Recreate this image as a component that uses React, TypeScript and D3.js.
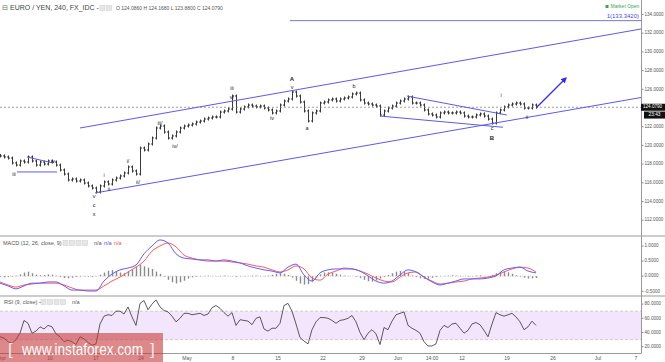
import React, { useEffect, useRef } from "react";
import * as d3 from "d3";

// EUR/JPY 4h closes, one value every 4 bars
const closes = [
  118.87, 118.76, 118.65, 118.12, 117.9, 118.33, 118.22, 118.76, 118.33, 117.9,
  118.22, 118.01, 118.33, 118.22, 117.9, 117.37, 116.94, 116.3, 116.41, 116.19,
  116.3, 115.98, 115.66, 115.44, 115.02, 115.66, 116.09, 115.87, 116.3, 116.51,
  116.73, 117.05, 117.69, 117.26, 116.94, 119.72, 119.51, 120.15, 120.79, 121.86,
  122.07, 121.43, 120.79, 121.01, 121.43, 121.86, 122.07, 122.18, 122.29, 122.5,
  122.61, 122.82, 122.93, 123.04, 123.04, 123.57, 123.68, 123.89, 125.28, 123.57,
  123.89, 124.11, 124.32, 124.21, 124.11, 124.21, 124.0, 123.79, 123.47, 123.68,
  124.32, 124.75, 124.96, 125.71, 125.28, 124.64, 123.68, 122.61, 123.47, 123.68,
  124.53, 124.64, 124.86, 124.96, 124.75, 124.96, 125.07, 125.18, 125.5, 125.6,
  124.86, 124.53, 124.43, 124.32, 124.21, 123.25, 123.68, 124.0, 124.21, 124.53,
  124.75, 124.96, 125.18, 124.53, 124.53, 124.32, 123.79, 123.36, 123.25, 123.04,
  123.47, 123.57, 123.47, 123.47, 123.57, 123.47, 123.14, 123.04, 123.04, 123.25,
  123.36, 123.14, 122.82, 122.39, 123.47, 123.79, 124.11, 124.32, 124.43, 124.53,
  124.43, 124.0, 124.0, 124.32, 124.08,
];

// MACD (12, 26, 9), one value every 8 bars
const macdLine = [
  -0.23, -0.32, -0.42, -0.32, -0.23, -0.23, -0.19, -0.19, -0.32, -0.46,
  -0.46, -0.49, -0.49, -0.16, 0.07, 0.21, 0.27, 0.37, 0.74, 1.0,
  1.2, 1.1, 0.74, 0.6, 0.57, 0.54, 0.54, 0.5, 0.54, 0.5,
  0.44, 0.34, 0.27, 0.21, 0.17, 0.11, 0.3, 0.4, 0.04, -0.16,
  0.11, 0.21, 0.24, 0.24, 0.24, 0.17, 0.01, -0.16, -0.23, -0.16,
  0.04, 0.21, 0.14, -0.03, -0.19, -0.29, -0.23, -0.16, -0.09, -0.09,
  -0.09, -0.06, 0.01, 0.21, 0.27, 0.3, 0.17, 0.11,
];
const signalLine = [
  -0.19, -0.29, -0.36, -0.29, -0.26, -0.23, -0.23, -0.23, -0.29, -0.39,
  -0.46, -0.46, -0.46, -0.32, -0.16, -0.03, 0.14, 0.3, 0.5, 0.83,
  1.0, 1.1, 0.97, 0.7, 0.6, 0.54, 0.5, 0.5, 0.5, 0.47,
  0.44, 0.4, 0.34, 0.3, 0.21, 0.14, 0.21, 0.34, 0.24, -0.06,
  -0.13, 0.07, 0.17, 0.27, 0.24, 0.17, 0.07, -0.06, -0.16, -0.19,
  -0.03, 0.11, 0.14, -0.03, -0.16, -0.26, -0.23, -0.19, -0.16, -0.09,
  -0.06, -0.03, 0.04, 0.14, 0.24, 0.3, 0.27, 0.14,
];
// histogram, one value every 4 bars
const macdHist = [
  -0.03, -0.04, -0.03, -0.02, 0.02, 0.06, 0.12, 0.15, 0.1, 0.05,
  0.03, 0.04, 0.06, 0.05, 0.02, -0.03, -0.06, -0.07, -0.05, -0.03,
  -0.02, -0.01, -0.02, -0.03, -0.01, 0.05, 0.12, 0.18, 0.2, 0.17,
  0.12, 0.1, 0.15, 0.22, 0.3, 0.38, 0.33, 0.28, 0.24, 0.15,
  0.08, -0.02, -0.12, -0.2, -0.24, -0.2, -0.15, -0.08, -0.04, -0.02,
  -0.01, 0.01, 0.02, 0.01, -0.01, 0.01, 0.02, 0.01, -0.01, -0.02,
  -0.01, 0.01, 0.01, 0.02, 0.02, 0.01, -0.01, 0.02, 0.05, 0.08,
  0.1, 0.08, 0.04, -0.05, -0.15, -0.24, -0.28, -0.26, -0.18, -0.05,
  0.06, 0.12, 0.13, 0.11, 0.08, 0.05, 0.02, 0.01, 0.0, -0.02,
  -0.06, -0.12, -0.17, -0.18, -0.14, -0.08, -0.03, 0.04, 0.1, 0.15,
  0.17, 0.15, 0.1, 0.03, -0.03, -0.07, -0.09, -0.08, -0.05, -0.03,
  -0.01, 0.01, 0.02, 0.03, 0.02, 0.01, 0.0, -0.02, -0.01, 0.02,
  0.03, 0.01, -0.02, 0.04, 0.1, 0.15, 0.16, 0.13, 0.08, 0.03,
  -0.02, -0.05, -0.08, -0.07, -0.06,
];

// RSI (9, close), one value every 4 bars
const rsiValues = [
  34, 32, 27, 25, 30, 39, 57, 53, 39, 42, 48, 45, 50, 48, 38, 34, 27, 29, 27, 23,
  34, 31, 26, 22, 24, 52, 63, 65, 64, 70, 70, 66, 76, 62, 50, 81, 85, 72, 80, 86,
  76, 71, 69, 63, 55, 60, 67, 67, 65, 66, 67, 64, 66, 75, 78, 74, 68, 63, 68, 50,
  58, 57, 56, 51, 60, 62, 45, 42, 46, 46, 53, 78, 81, 70, 52, 33, 28, 24, 44, 55,
  61, 61, 60, 57, 53, 57, 58, 60, 64, 55, 40, 30, 39, 44, 38, 23, 47, 44, 56, 65,
  67, 69, 50, 46, 43, 39, 27, 21, 21, 24, 43, 50, 47, 52, 53, 46, 39, 43, 52, 54,
  51, 43, 34, 52, 68, 65, 63, 65, 67, 62, 55, 44, 48, 56, 50,
];

const priceTicks = [134, 132, 130, 128, 126, 122, 120, 118, 116, 114, 112];
const macdTicks = [1, 0.5, 0, -0.5];
const rsiTicks = [80, 60, 40, 20];
const lastPrice = 124.079;
const targetPrice = 133.342;

// date labels and the bar slot they sit on (one slot = 4 bars)
const dateLabels = ["Apr", "10", "17", "24", "May", "8", "15", "22", "29", "Jun", "14:00", "12", "19", "26", "Jul", "7"];
const dateBars = [0.5, 12.5, 24, 35.25, 46.75, 58.25, 69.5, 80.75, 90.5, 99.5, 108, 115.5, 126.75, 138.25, 149.5, 159];

// drawn trend lines: [slot, price] pairs
const trendLines = [
  [[20, 121.86], [160.25, 132.45]],
  [[23.75, 114.91], [160.25, 125.12]],
  [[101.7, 125.28], [126.7, 123.25]],
  [[95, 123.14], [125.75, 121.94]],
  [[6.75, 118.76], [13.25, 118.12]],
  [[4.25, 117.16], [14.25, 117.16]],
];
const arrowLine = [[134.25, 124.11], [141.5, 127.21]];

// Elliott wave labels
const waveText = ["iii", "iv", "v", "c", "x", "i", "ii", "i/", "ii/", "iii/", "iv/", "iii", "v/", "iv", "A", "v", "a", "b", "i", "c", "B", "ii"];
const waveBar = [3.5, 13.25, 23.5, 23.5, 23.5, 26, 27.25, 32, 34.5, 40, 43.75, 58, 58, 68, 73, 73, 76.75, 88.5, 125.25, 123, 123, 131.75];
const wavePrice = [116.83, 118.22, 114.48, 113.52, 112.56, 116.73, 115.23, 118.22, 115.98, 122.39, 119.83, 126.03, 125.07, 122.82, 127.1, 126.14, 121.75, 126.25, 125.28, 121.75, 120.79, 122.93];

export default function App() {
  const ref = useRef<SVGSVGElement>(null);

  useEffect(() => {
    const svg = d3.select(ref.current);
    svg.selectAll("*").remove();

    const plotR = 641;
    const font = "'Liberation Sans', Arial, sans-serif";
    const axisCol = "#555";

    // scales (x in slots of 4 bars)
    const x = d3.scaleLinear().domain([0, 160.25]).range([0, plotR]);
    const yP = d3.scaleLinear().domain([112, 134]).range([220.2, 14.5]);
    const yM = d3.scaleLinear().domain([-0.5, 1]).range([291.3, 246]);
    const yR = d3.scaleLinear().domain([20, 80]).range([346.7, 304.1]);

    svg.append("rect").attr("width", 665).attr("height", 362).attr("fill", "#fff");

    // arrow marker
    svg
      .append("defs")
      .append("marker")
      .attr("id", "arr")
      .attr("viewBox", "0 0 10 10")
      .attr("refX", 8)
      .attr("refY", 5)
      .attr("markerWidth", 5)
      .attr("markerHeight", 5)
      .attr("orient", "auto")
      .append("path")
      .attr("d", "M0,0 L10,5 L0,10 Z")
      .attr("fill", "#2b2bff");

    // ---- RSI band (drawn first, under everything)
    svg
      .append("rect")
      .attr("x", 0)
      .attr("y", yR(70))
      .attr("width", plotR)
      .attr("height", yR(30) - yR(70))
      .attr("fill", "#f3e6fc");
    [70, 30].forEach((v) => {
      svg
        .append("line")
        .attr("x1", 0)
        .attr("x2", plotR)
        .attr("y1", yR(v))
        .attr("y2", yR(v))
        .attr("stroke", "#bbb")
        .attr("stroke-width", 0.7)
        .attr("stroke-dasharray", "3,2");
    });

    // ---- panel frames
    [236, 296].forEach((y) => {
      svg.append("line").attr("x1", 0).attr("x2", 665).attr("y1", y).attr("y2", y).attr("stroke", "#999").attr("stroke-width", 1);
    });
    svg.append("line").attr("x1", 0).attr("x2", plotR).attr("y1", 353.5).attr("y2", 353.5).attr("stroke", "#999");
    svg.append("line").attr("x1", plotR + 0.5).attr("x2", plotR + 0.5).attr("y1", 0).attr("y2", 353.5).attr("stroke", "#999");

    // ---- price bars (open = previous close)
    const bars = svg.append("g").attr("stroke", "#3a3a3a").attr("stroke-width", 1);
    closes.forEach((c, i) => {
      const o = i === 0 ? c + 0.05 : closes[i - 1];
      const cx = Math.round(x(i)) + 0.5;
      const top = yP(Math.max(o, c)) - 1.5;
      const bot = yP(Math.min(o, c)) + 1.5;
      bars.append("line").attr("x1", cx).attr("x2", cx).attr("y1", top).attr("y2", bot);
      bars.append("line").attr("x1", cx - 1.5).attr("x2", cx).attr("y1", yP(o)).attr("y2", yP(o));
      bars.append("line").attr("x1", cx).attr("x2", cx + 1.5).attr("y1", yP(c)).attr("y2", yP(c));
    });

    // current price dashed line
    svg
      .append("line")
      .attr("x1", 0)
      .attr("x2", plotR)
      .attr("y1", yP(lastPrice))
      .attr("y2", yP(lastPrice))
      .attr("stroke", "#777")
      .attr("stroke-width", 0.7)
      .attr("stroke-dasharray", "2,2");

    // trend lines
    trendLines.forEach((l) => {
      svg
        .append("line")
        .attr("x1", x(l[0][0]))
        .attr("y1", yP(l[0][1]))
        .attr("x2", x(l[1][0]))
        .attr("y2", yP(l[1][1]))
        .attr("stroke", "#5a5af0")
        .attr("stroke-width", 1);
    });

    // target level
    svg
      .append("line")
      .attr("x1", x(72.5))
      .attr("x2", plotR)
      .attr("y1", yP(targetPrice))
      .attr("y2", yP(targetPrice))
      .attr("stroke", "#5656b8")
      .attr("stroke-width", 0.8);
    svg
      .append("text")
      .attr("x", 639)
      .attr("y", yP(targetPrice) - 2.5)
      .attr("text-anchor", "end")
      .style("font", `6px ${font}`)
      .attr("fill", "#4a4ae0")
      .text(`1(${targetPrice.toFixed(4)})`);

    // arrow
    svg
      .append("line")
      .attr("x1", x(arrowLine[0][0]))
      .attr("y1", yP(arrowLine[0][1]))
      .attr("x2", x(arrowLine[1][0]))
      .attr("y2", yP(arrowLine[1][1]))
      .attr("stroke", "#2b2bff")
      .attr("stroke-width", 1.2)
      .attr("marker-end", "url(#arr)");

    // wave labels
    waveText.forEach((t, i) => {
      const big = t === "A" || t === "B";
      svg
        .append("text")
        .attr("x", x(waveBar[i]))
        .attr("y", yP(wavePrice[i]))
        .attr("text-anchor", "middle")
        .attr("dominant-baseline", "middle")
        .style("font", `${big ? "bold 6px" : "5.5px"} ${font}`)
        .attr("fill", "#222")
        .text(t);
    });

    // ---- MACD
    svg
      .append("g")
      .selectAll("line")
      .data(macdHist)
      .enter()
      .append("line")
      .attr("x1", (d, i) => Math.round(x(i)) + 0.5)
      .attr("x2", (d, i) => Math.round(x(i)) + 0.5)
      .attr("y1", yM(0))
      .attr("y2", (d) => yM(d))
      .attr("stroke", "#8a8a8a")
      .attr("stroke-width", 1.4);
    svg
      .append("line")
      .attr("x1", 0)
      .attr("x2", x(134.5))
      .attr("y1", yM(0))
      .attr("y2", yM(0))
      .attr("stroke", "#aaa")
      .attr("stroke-width", 0.6)
      .attr("stroke-dasharray", "1,1.5");
    const ml = d3
      .line<number>()
      .x((d, i) => x(i * 2))
      .y((d) => yM(d))
      .curve(d3.curveMonotoneX);
    svg.append("path").attr("d", ml(signalLine)).attr("fill", "none").attr("stroke", "#ff5a5a").attr("stroke-width", 1);
    svg.append("path").attr("d", ml(macdLine)).attr("fill", "none").attr("stroke", "#6060ff").attr("stroke-width", 1);

    // ---- RSI line
    const rl = d3
      .line<number>()
      .x((d, i) => x(i))
      .y((d) => yR(d));
    svg.append("path").attr("d", rl(rsiValues)).attr("fill", "none").attr("stroke", "#333").attr("stroke-width", 0.8);

    // ---- right axes
    const tickLab = (y: number, txt: string) => {
      svg.append("line").attr("x1", plotR + 1).attr("x2", plotR + 2.5).attr("y1", y).attr("y2", y).attr("stroke", "#888");
      svg
        .append("text")
        .attr("x", plotR + 3.5)
        .attr("y", y)
        .attr("dominant-baseline", "middle")
        .style("font", `4.6px ${font}`)
        .attr("fill", axisCol)
        .text(txt);
    };
    priceTicks.forEach((p) => tickLab(yP(p), p.toFixed(4)));
    macdTicks.forEach((v) => tickLab(yM(v), v.toFixed(4)));
    rsiTicks.forEach((v) => tickLab(yR(v), v.toFixed(4)));

    // last price tags
    svg.append("rect").attr("x", plotR).attr("y", yP(lastPrice) - 3.5).attr("width", 24).attr("height", 7).attr("fill", "#111");
    svg
      .append("text")
      .attr("x", plotR + 2)
      .attr("y", yP(lastPrice))
      .attr("dominant-baseline", "middle")
      .style("font", `4.6px ${font}`)
      .attr("fill", "#fff")
      .text(lastPrice.toFixed(4));
    svg.append("rect").attr("x", plotR + 3).attr("y", yP(lastPrice) + 4.3).attr("width", 21).attr("height", 7).attr("fill", "#111");
    svg
      .append("text")
      .attr("x", plotR + 13.5)
      .attr("y", yP(lastPrice) + 7.8)
      .attr("text-anchor", "middle")
      .attr("dominant-baseline", "middle")
      .style("font", `4.8px ${font}`)
      .attr("fill", "#fff")
      .text("23:43");

    // ---- date axis
    dateLabels.forEach((t, i) => {
      svg
        .append("text")
        .attr("x", x(dateBars[i]))
        .attr("y", 358.5)
        .attr("text-anchor", "middle")
        .attr("dominant-baseline", "middle")
        .style("font", `5px ${font}`)
        .attr("fill", axisCol)
        .text(t);
    });

    // ---- headers
    svg.append("text").attr("x", 2).attr("y", 10).style("font", `7px 'DejaVu Sans', ${font}`).attr("fill", "#666").text("⊟");
    svg.append("text").attr("x", 10).attr("y", 10).style("font", `7px ${font}`).attr("fill", "#444").text("EURO / YEN, 240, FX_IDC -");
    const icons = (x0: number, y0: number, n: number) => {
      for (let k = 0; k < n; k++) {
        svg
          .append("rect")
          .attr("x", x0 + k * 6.5)
          .attr("y", y0)
          .attr("width", 5)
          .attr("height", 5)
          .attr("fill", "#e6e6e6")
          .attr("stroke", "#ccc")
          .attr("stroke-width", 0.5);
      }
    };
    icons(100, 5.5, 2);
    svg
      .append("text")
      .attr("x", 116)
      .attr("y", 10)
      .style("font", `5px ${font}`)
      .attr("fill", "#555")
      .text("O 124.0860  H 124.1680  L 123.8800  C 124.0790");

    svg.append("rect").attr("x", 605.5).attr("y", 5).attr("width", 3).attr("height", 3).attr("fill", "#3aa655");
    svg.append("text").attr("x", 610.5).attr("y", 8.3).style("font", `5px ${font}`).attr("fill", "#3aa655").text("Market Open");

    svg.append("text").attr("x", 3).attr("y", 245).style("font", `5.5px ${font}`).attr("fill", "#555").text("MACD (12, 26, close, 9) ~");
    icons(63, 240.5, 4);
    [["n/a", "#555"], ["n/a", "#5050ff"], ["n/a", "#ff4a4a"]].forEach((d, k) => {
      svg.append("text").attr("x", 94 + k * 10).attr("y", 245).style("font", `5.5px ${font}`).attr("fill", d[1]).text(d[0]);
    });

    svg.append("text").attr("x", 4).attr("y", 304).style("font", `5.5px ${font}`).attr("fill", "#555").text("RSI (9, close) ~");
    icons(41, 299.5, 4);
    svg.append("text").attr("x", 72).attr("y", 304).style("font", `5.5px ${font}`).attr("fill", "#555").text("n/a");

    // ---- watermark
    svg.append("rect").attr("x", 0).attr("y", 333).attr("width", 163).attr("height", 29).attr("fill", "#c83a3a").attr("opacity", 0.6);
    svg.append("text").attr("x", 8).attr("y", 355).style("font", `17px ${font}`).attr("fill", "#fff").attr("opacity", 0.85).text("[");
    svg
      .append("text")
      .attr("x", 22)
      .attr("y", 355)
      .attr("textLength", 121)
      .attr("lengthAdjust", "spacingAndGlyphs")
      .style("font", `17px ${font}`)
      .attr("fill", "#fff")
      .text("www.instaforex.com");
    svg.append("text").attr("x", 150).attr("y", 355).style("font", `17px ${font}`).attr("fill", "#fff").attr("opacity", 0.85).text("]");
  }, []);

  return (
    <svg
      ref={ref}
      width={665}
      height={362}
      style={{ position: "absolute", left: 0, top: 0, display: "block" }}
    />
  );
}
